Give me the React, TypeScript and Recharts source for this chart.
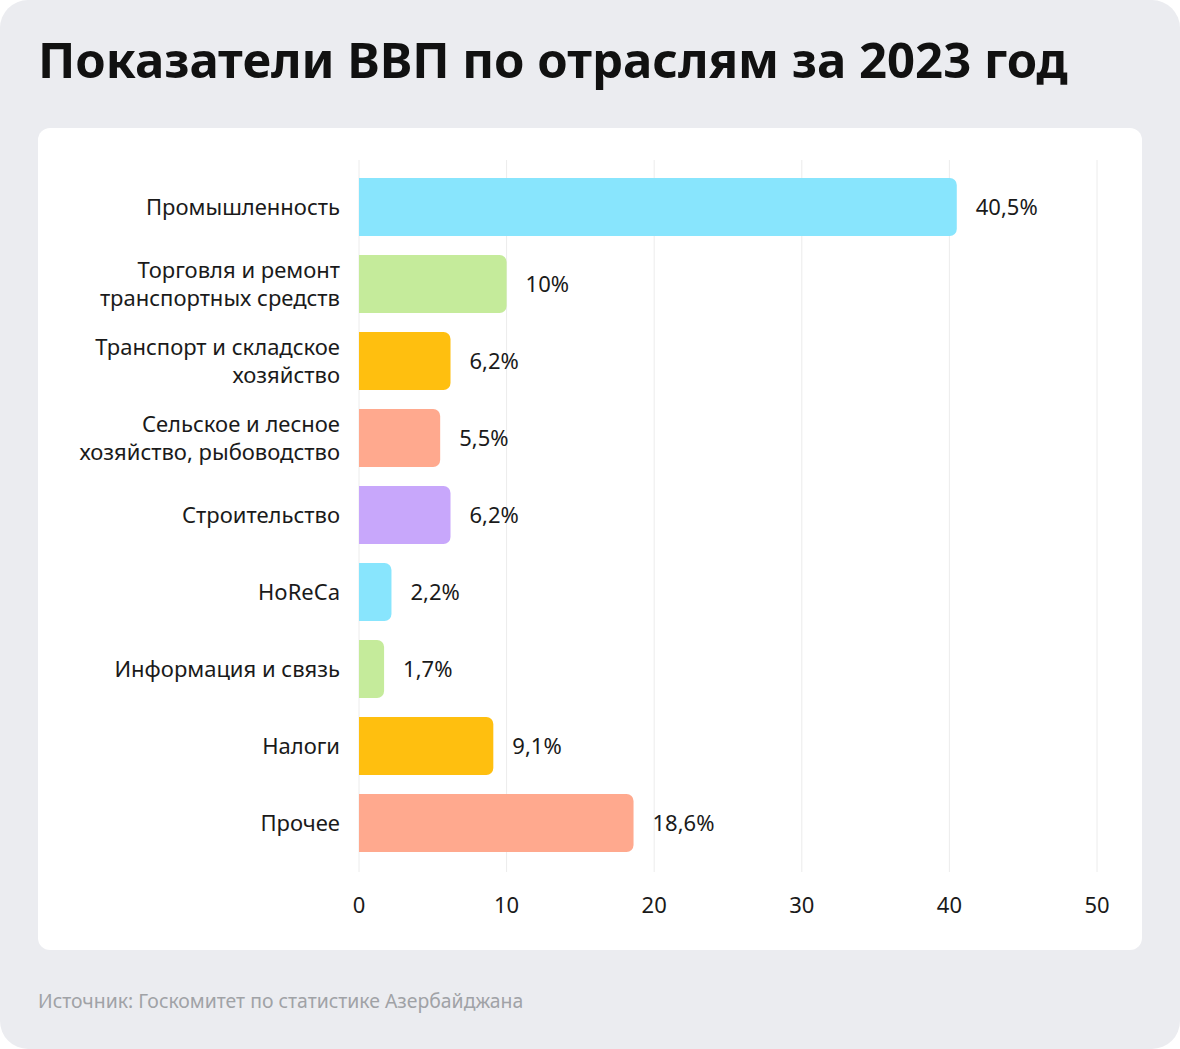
import React from 'react';
import { BarChart, Bar, XAxis, YAxis, CartesianGrid, Cell, LabelList } from 'recharts';

const CATEGORIES = [
  'Промышленность',
  'Торговля и ремонт\nтранспортных средств',
  'Транспорт и складское\nхозяйство',
  'Сельское и лесное\nхозяйство, рыбоводство',
  'Строительство',
  'HoReCa',
  'Информация и связь',
  'Налоги',
  'Прочее',
];
const VALUES = [40.5, 10, 6.2, 5.5, 6.2, 2.2, 1.7, 9.1, 18.6];
const COLORS = ['#88e5fd', '#c5eb9b', '#ffbf0f', '#ffa98e', '#c8a7fb', '#88e5fd', '#c5eb9b', '#ffbf0f', '#ffa98e'];
const X_TICKS = [0, 10, 20, 30, 40, 50];

const data = CATEGORIES.map((name, i) => ({ name, value: VALUES[i] }));

const FONT = '"Noto Sans", sans-serif';

const fmt = (v: number) => `${String(v).replace('.', ',')}%`;

// multi-line category labels, right aligned against the plot
const CategoryTick = ({ x, y, payload }: { x?: number; y?: number; payload?: { value: string } }) => {
  const lines = String(payload?.value ?? '').split('\n');
  const lh = 28;
  const start = -((lines.length - 1) * lh) / 2;
  return (
    <text x={x} y={y} textAnchor="end" fill="#1a1a1a" fontSize={22} fontFamily={FONT}>
      {lines.map((l, i) => (
        <tspan key={`l-${i}`} x={x} dy={i === 0 ? start + 8 : lh}>{l}</tspan>
      ))}
    </text>
  );
};

export default function App() {
  return (
    <div style={{ width: 1180, height: 1049, background: '#ebecf0', borderRadius: 28, position: 'relative', fontFamily: FONT }}>
      <style>{'body{margin:0}'}</style>
      <div style={{ position: 'absolute', left: 38, top: 26, fontSize: 49, fontWeight: 700, color: '#111' }}>
        Показатели ВВП по отраслям за 2023 год
      </div>
      <div style={{ position: 'absolute', left: 38, top: 128, width: 1104, height: 822, background: '#fff', borderRadius: 12 }}>
        <BarChart
          width={1104}
          height={822}
          data={data}
          layout="vertical"
          barSize={58}
          margin={{ top: 32, right: 45, left: 0, bottom: 0 }}
        >
          <CartesianGrid vertical horizontal={false} stroke="#ececec" />
          <XAxis
            type="number"
            domain={[0, 50]}
            ticks={X_TICKS}
            axisLine={false}
            tickLine={false}
            height={78}
            tickMargin={19}
            tick={{ fontSize: 22, fill: '#1a1a1a', fontFamily: FONT }}
          />
          <YAxis
            type="category"
            dataKey="name"
            width={321}
            axisLine={false}
            tickLine={false}
            tickMargin={13}
            padding={{ top: 8, bottom: 11 }}
            tick={<CategoryTick />}
          />
          <Bar dataKey="value" radius={[0, 7, 7, 0]} isAnimationActive={false}>
            {data.map((d, i) => (
              <Cell key={`c-${d.name}`} fill={COLORS[i]} />
            ))}
            <LabelList
              dataKey="value"
              position="right"
              offset={19}
              formatter={(v: number) => fmt(v)}
              style={{ fontSize: 22, fill: '#1a1a1a', fontFamily: FONT }}
            />
          </Bar>
        </BarChart>
      </div>
      <div style={{ position: 'absolute', left: 38, top: 987, fontSize: 19.4, color: '#a0a2a6' }}>
        Источник: Госкомитет по статистике Азербайджана
      </div>
    </div>
  );
}
